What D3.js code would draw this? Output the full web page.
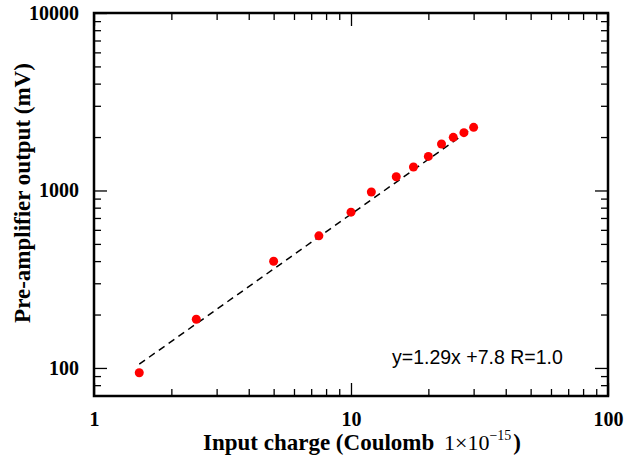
<!DOCTYPE html>
<html>
<head>
<meta charset="utf-8">
<script src="https://cdn.jsdelivr.net/npm/d3@7"></script>
<style>
  body { margin: 0; background: #fff; }
  svg { display: block; }
  .tick text { font-family: "Liberation Serif", "Times New Roman", serif; font-weight: bold; font-size: 20px; fill: #000; }
  .tick line { stroke: #000; stroke-width: 1.3; }
</style>
</head>
<body>
<div id="chart"></div>
<script>
// input charge (x 1e-15 C)
const charge = [1.5, 2.5, 5, 7.5, 10, 12, 15, 17.5, 20, 22.5, 25, 27.5, 30];
// pre-amplifier output (mV)
const output = [94, 188, 399, 555, 755, 980, 1195, 1356, 1556, 1828, 1992, 2118, 2269];
// dashed fit line end points
const fitX = [1.5, 30];
const fitY = [105, 2270];
const xMajor = [1, 10, 100];
const yMajor = [100, 1000, 10000];

const W = 626, H = 459;
const m = {left: 94, right: 18, top: 13, bottom: 63};

const svg = d3.select('#chart').append('svg')
  .attr('width', W).attr('height', H);

const x = d3.scaleLog().domain([1, 100]).range([m.left, W - m.right]);
const y = d3.scaleLog().domain([69.5, 10000]).range([H - m.bottom, m.top]);

const xMinor = x.ticks().filter(v => !xMajor.includes(v));
const yMinor = y.ticks().filter(v => !yMajor.includes(v));

const fmt = d3.format('d');
const bottom = H - m.bottom, right = W - m.right;

// inward ticks on all four sides
svg.append('g').attr('transform', `translate(0,${bottom})`)
  .call(d3.axisBottom(x).tickValues(xMinor).tickSize(-7).tickFormat(''));
svg.append('g').attr('transform', `translate(0,${bottom})`)
  .call(d3.axisBottom(x).tickValues(xMajor).tickSize(-13).tickPadding(16).tickFormat(fmt));
svg.append('g').attr('transform', `translate(0,${m.top})`)
  .call(d3.axisTop(x).tickValues(xMinor).tickSize(-7).tickFormat(''));
svg.append('g').attr('transform', `translate(0,${m.top})`)
  .call(d3.axisTop(x).tickValues(xMajor).tickSize(-13).tickFormat(''));

svg.append('g').attr('transform', `translate(${m.left},0)`)
  .call(d3.axisLeft(y).tickValues(yMinor).tickSize(-7).tickFormat(''));
svg.append('g').attr('transform', `translate(${m.left},0)`)
  .call(d3.axisLeft(y).tickValues(yMajor).tickSize(-13).tickPadding(15).tickFormat(fmt));
svg.append('g').attr('transform', `translate(${right},0)`)
  .call(d3.axisRight(y).tickValues(yMinor).tickSize(-7).tickFormat(''));
svg.append('g').attr('transform', `translate(${right},0)`)
  .call(d3.axisRight(y).tickValues(yMajor).tickSize(-13).tickFormat(''));

svg.selectAll('.domain').remove();

// frame
svg.append('rect')
  .attr('x', m.left).attr('y', m.top)
  .attr('width', right - m.left).attr('height', bottom - m.top)
  .attr('fill', 'none').attr('stroke', '#000').attr('stroke-width', 2.5);

// fit line
svg.append('path')
  .datum(fitX.map((v, i) => [v, fitY[i]]))
  .attr('d', d3.line().x(d => x(d[0])).y(d => y(d[1])))
  .attr('fill', 'none').attr('stroke', '#000')
  .attr('stroke-width', 1.5).attr('stroke-dasharray', '7,5');

// points
svg.selectAll('circle.pt')
  .data(charge)
  .enter().append('circle')
    .attr('class', 'pt')
    .attr('cx', d => x(d))
    .attr('cy', (d, i) => y(output[i]))
    .attr('r', 4.5)
    .attr('fill', '#ff0000');

// equation
svg.append('text')
  .attr('x', 392).attr('y', 364)
  .style('font-family', '"Liberation Sans", Arial, sans-serif')
  .style('font-size', '19.5px')
  .text('y=1.29x +7.8 R=1.0');

// axis titles
const xt = svg.append('text')
  .attr('x', 362).attr('y', 450)
  .attr('text-anchor', 'middle')
  .style('font-family', '"Liberation Serif", "Times New Roman", serif')
  .style('font-size', '23px').style('font-weight', 'bold');
xt.append('tspan').text('Input charge (Coulomb ');
xt.append('tspan').attr('dx', 4).style('font-weight', 'normal').style('font-size', '22px').text('1\u00d710');
xt.append('tspan').style('font-weight', 'normal').style('font-size', '14px')
  .attr('dy', -10).text('\u221215');
xt.append('tspan').attr('dy', 10).attr('dx', 2).text(')');

svg.append('text')
  .attr('transform', 'translate(30,193) rotate(-90)')
  .attr('text-anchor', 'middle')
  .style('font-family', '"Liberation Serif", "Times New Roman", serif')
  .style('font-size', '23px').style('font-weight', 'bold')
  .text('Pre-amplifier output (mV)');
</script>
</body>
</html>
